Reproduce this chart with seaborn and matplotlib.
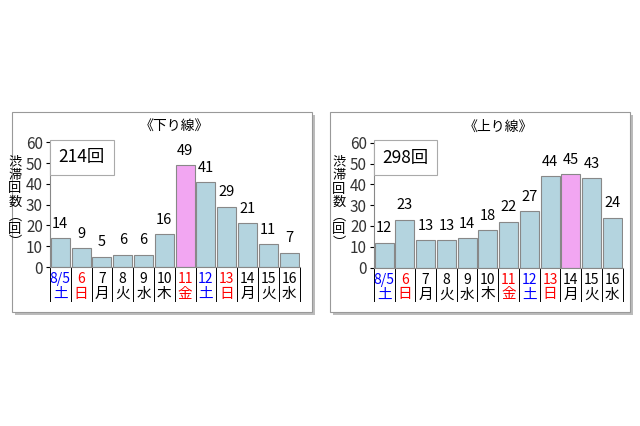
import matplotlib
matplotlib.use("Agg")
import matplotlib.pyplot as plt
import seaborn as sns
import pandas as pd
from matplotlib.patches import Rectangle
from matplotlib.transforms import blended_transform_factory

plt.rcParams["font.family"] = "Noto Sans CJK JP"

days = ["8/5", "6", "7", "8", "9", "10", "11", "12", "13", "14", "15", "16"]
weekdays = ["土", "日", "月", "火", "水", "木", "金", "土", "日", "月", "火", "水"]
day_colors = ["blue", "red", "black", "black", "black", "black", "red", "blue", "red", "black", "black", "black"]
down_vals = [14, 9, 5, 6, 6, 16, 49, 41, 29, 21, 11, 7]
up_vals = [12, 23, 13, 13, 14, 18, 22, 27, 44, 45, 43, 24]
down_peak = 6
up_peak = 9
titles = ["《下り線》", "《上り線》"]
totals = ["214回", "298回"]

fig = plt.figure(figsize=(6.4, 4.26), dpi=100)
fig.patch.set_facecolor("white")

def panel(ax_rect, box_rect, vals, peak, title, total):
    bx, by, bw, bh = box_rect
    fig.patches.append(Rectangle((bx + 0.005, by - 0.007), bw, bh, transform=fig.transFigure,
                                 facecolor="#bbbbbb", edgecolor="none", zorder=-2))
    fig.patches.append(Rectangle((bx, by), bw, bh, transform=fig.transFigure,
                                 facecolor="white", edgecolor="#999999", lw=0.8, zorder=-1))
    ax = fig.add_axes(ax_rect)
    ax.set_facecolor("none")
    df = pd.DataFrame({"day": days, "v": vals})
    pal = ["#ff99ff" if i == peak else "#add8e6" for i in range(len(days))]
    sns.barplot(data=df, x="day", y="v", hue="day", palette=pal, legend=False,
                width=0.92, edgecolor="#888888", linewidth=0.8, ax=ax)
    ax.set_ylim(0, 60)
    ax.set_xlim(-0.5, 11.5)
    ax.set_yticks(range(0, 61, 10))
    ax.tick_params(axis="y", labelsize=11, length=3, pad=2, labelcolor="#333333")
    ax.tick_params(axis="x", length=0, labelbottom=False)
    for s in ["top", "right"]:
        ax.spines[s].set_visible(False)
    ax.spines["left"].set_color("#888888")
    ax.spines["bottom"].set_color("#888888")
    ax.set_xlabel("")
    ax.set_ylabel("")
    for i, v in enumerate(vals):
        ax.text(i, v + 3.5, str(v), ha="center", va="bottom", fontsize=10.5)
    tr = blended_transform_factory(ax.transData, ax.transAxes)
    for i in range(len(days)):
        ax.text(i, -0.04, days[i], transform=tr, ha="center", va="top", fontsize=10, color=day_colors[i])
        ax.text(i, -0.16, weekdays[i], transform=tr, ha="center", va="top", fontsize=10.5, color=day_colors[i])
    for k in range(len(days) + 1):
        ax.plot([k - 0.5, k - 0.5], [0, -0.27], transform=tr, color="black", lw=0.7, clip_on=False)
    ax.text(0.5, 1.13, title, transform=ax.transAxes, ha="center", va="center", fontsize=10)
    ax.text(0.035, 0.88, total, transform=ax.transAxes, ha="left", va="center", fontsize=12.5,
            bbox=dict(boxstyle="square,pad=0.5", facecolor="white", edgecolor="#aaaaaa", lw=0.8))
    ax.text(-0.14, 0.52, "渋\n滞\n回\n数\n︵\n回\n︶", transform=ax.transAxes, ha="center", va="center",
            fontsize=9.5, linespacing=1.05)
    return ax

panel([0.078, 0.373, 0.39, 0.293], (0.019, 0.268, 0.468, 0.47), down_vals, down_peak, titles[0], totals[0])
panel([0.584, 0.372, 0.389, 0.293], (0.516, 0.268, 0.468, 0.47), up_vals, up_peak, titles[1], totals[1])

fig.savefig("out.png", dpi=100)
